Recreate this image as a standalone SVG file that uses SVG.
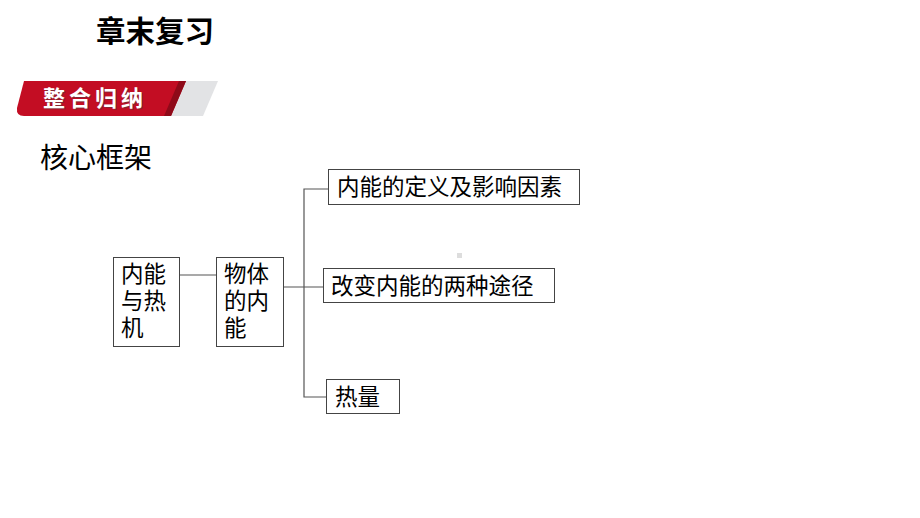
<svg xmlns="http://www.w3.org/2000/svg" width="920" height="518" viewBox="0 0 920 518">
<style>
.t{font-family:"Noto Sans CJK SC","Noto Sans CJK JP",sans-serif;fill:#000}
.box{fill:#fff;stroke:#444;stroke-width:1}
.bt{font-family:"Noto Sans CJK SC","Noto Sans CJK JP",sans-serif;font-size:22.5px;fill:#000}
.c{fill:none;stroke:#555;stroke-width:1.2}
</style>
<rect width="920" height="518" fill="#fff"/>
<text class="t" x="96" y="42" font-size="29.5" font-weight="bold">章末复习</text>
<g id="banner">
<polygon points="180,81 218,81 203,116 165,116" fill="#e2e3e5"/>
<path d="M24,81 L186,81 L171,116 L24,116 Q16,116 17,108 Z" fill="#c30d23"/>
<polygon points="179,81 186,81 171,116 164,116" fill="#8e0a19"/>
<text x="44" y="107" font-family="Noto Sans CJK SC,sans-serif" font-size="22" font-weight="bold" fill="#444" opacity="0.5" letter-spacing="4">整合归纳</text>
<text x="43" y="106" font-family="Noto Sans CJK SC,sans-serif" font-size="22" font-weight="bold" fill="#fff" letter-spacing="4">整合归纳</text>
</g>
<text class="t" x="40" y="168" font-size="28">核心框架</text>
<g id="connectors">
<line class="c" x1="179" y1="275" x2="216" y2="275"/>
<line class="c" x1="284" y1="287" x2="323" y2="287"/>
<polyline class="c" points="328,189 304,189 304,397 326,397"/>
</g>
<g id="n1">
<rect class="box" x="113.5" y="257.5" width="66" height="89"/>
<text class="bt" x="121" y="282">内能</text>
<text class="bt" x="121" y="309">与热</text>
<text class="bt" x="121" y="336">机</text>
</g>
<g id="n2">
<rect class="box" x="216.5" y="257.5" width="67" height="89"/>
<text class="bt" x="224" y="282">物体</text>
<text class="bt" x="224" y="309">的内</text>
<text class="bt" x="224" y="336">能</text>
</g>
<g id="n3">
<rect class="box" x="328.5" y="169.5" width="251" height="35"/>
<text class="bt" x="337" y="195">内能的定义及影响因素</text>
</g>
<g id="n4">
<rect class="box" x="323.5" y="268.5" width="231" height="34"/>
<text class="bt" x="331" y="294">改变内能的两种途径</text>
</g>
<g id="n5">
<rect class="box" x="326.5" y="379.5" width="73" height="34"/>
<text class="bt" x="335" y="405">热量</text>
</g>
<rect x="457" y="253" width="5" height="5" fill="#ddd"/>
</svg>
